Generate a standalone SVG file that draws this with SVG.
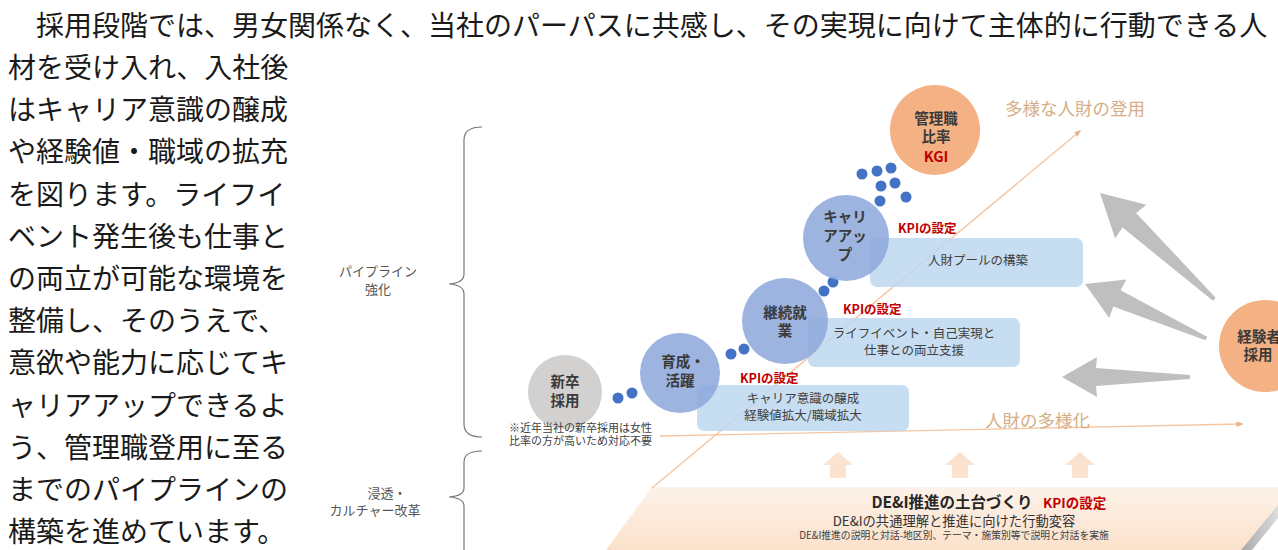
<svg xmlns="http://www.w3.org/2000/svg" xmlns:xlink="http://www.w3.org/1999/xlink" width="1278" height="550" viewBox="0 0 1278 550">
<style>
.para{font-family:"Noto Sans CJK JP","Noto Sans",sans-serif;font-size:28px;fill:#1a1a1a}
.lbl{font-family:"Noto Sans CJK JP",sans-serif;font-size:13px;fill:#555;text-anchor:middle}
.ctx{font-family:"Noto Sans CJK JP",sans-serif;font-size:14.5px;font-weight:bold;fill:#3a3a3a;text-anchor:middle}
.btx{font-family:"Noto Sans CJK JP",sans-serif;font-size:12.5px;fill:#404040;text-anchor:middle}
.kpi{font-family:"Noto Sans CJK JP",sans-serif;font-size:12.5px;font-weight:bold;fill:#c00000}
.note{font-family:"Noto Sans CJK JP",sans-serif;font-size:11px;fill:#404040}
.tan{font-family:"Noto Sans CJK JP",sans-serif;font-size:17.5px;fill:#d6ad86}
.blue{fill:#8eaadb;opacity:0.88}
.box{fill:#bdd7ee;opacity:0.85}
.dot{fill:#4472c4}
.brace{fill:none;stroke:#777;stroke-width:1.2}
.garrow{fill:#bfbfbf}
.uarrow{fill:#fbe3cf}
.oline{fill:none;stroke:#f4c6a2;stroke-width:1.4}
</style>
<defs>
<marker id="ah" viewBox="0 0 10 10" refX="8" refY="5" markerWidth="7" markerHeight="7" orient="auto" markerUnits="userSpaceOnUse">
<path d="M0,1 L10,5 L0,9 Z" fill="#e8b48c"/>
</marker>
<path id="up" d="M-15,13 L0,0 L15,13 L8,13 L8,26 L-8,26 L-8,13 Z"/>
<linearGradient id="plat" x1="0" y1="0" x2="0" y2="1">
<stop offset="0" stop-color="#fdf2e9"/>
<stop offset="1" stop-color="#fbe1cb"/>
</linearGradient>
<linearGradient id="side" x1="0" y1="0" x2="1" y2="0">
<stop offset="0" stop-color="#a9a9a9"/>
<stop offset="1" stop-color="#dcdcdc"/>
</linearGradient>
</defs>
<rect width="1278" height="550" fill="#fff"/>

<g id="paragraph">
<text class="para" x="36" y="36">採用段階では、男女関係なく、当社のパーパスに共感し、その実現に向けて主体的に行動できる人</text>
<text class="para" x="8" y="78">材を受け入れ、入社後</text>
<text class="para" x="8" y="120">はキャリア意識の醸成</text>
<text class="para" x="8" y="162">や経験値・職域の拡充</text>
<text class="para" x="8" y="205">を図ります。ライフイ</text>
<text class="para" x="8" y="247">ベント発生後も仕事と</text>
<text class="para" x="8" y="289">の両立が可能な環境を</text>
<text class="para" x="8" y="331">整備し、そのうえで、</text>
<text class="para" x="8" y="373">意欲や能力に応じてキ</text>
<text class="para" x="8" y="416">ャリアアップできるよ</text>
<text class="para" x="8" y="458">う、管理職登用に至る</text>
<text class="para" x="8" y="500">までのパイプラインの</text>
<text class="para" x="8" y="542">構築を進めています。</text>
</g>

<g id="braces">
<path class="brace" d="M482,127 Q464,127 464,140 L464,274 Q464,283 449,284 Q464,285 464,294 L464,424 Q464,437 482,437"/>
<text class="lbl" x="378" y="276">パイプライン</text>
<text class="lbl" x="378" y="294">強化</text>
<path class="brace" d="M482,451 Q464,451 464,462 L464,488 Q464,496 449,497 Q464,498 464,506 L464,550"/>
<text class="lbl" x="387" y="498">浸透・</text>
<text class="lbl" x="375" y="515">カルチャー改革</text>
</g>

<g id="platform">
<path d="M652,487 L1278,487 L1278,505 L1241,550 L606,550 Z" fill="url(#plat)"/>
<path d="M1278,505 L1278,518 L1252,550 L1241,550 Z" fill="url(#side)"/>
<text x="952" y="508" font-family="Noto Sans CJK JP, sans-serif" font-size="15.5" font-weight="bold" fill="#262626" text-anchor="middle">DE&amp;I推進の土台づくり</text>
<text class="kpi" x="1043" y="508" style="font-size:13.5px">KPIの設定</text>
<text x="954" y="526" font-family="Noto Sans CJK JP, sans-serif" font-size="13.3" fill="#333" text-anchor="middle">DE&amp;Iの共通理解と推進に向けた行動変容</text>
<text x="954" y="539" font-family="Noto Sans CJK JP, sans-serif" font-size="9.8" fill="#404040" text-anchor="middle">DE&amp;I推進の説明と対話-地区別、テーマ・施策別等で説明と対話を実施</text>
</g>

<g id="connectors">
<line class="oline" x1="652" y1="488" x2="1080" y2="131" marker-end="url(#ah)"/>
<line class="oline" x1="660" y1="436" x2="1242" y2="424" marker-end="url(#ah)"/>
<use xlink:href="#up" href="#up" class="uarrow" x="838" y="452"/>
<use xlink:href="#up" href="#up" class="uarrow" x="960" y="452"/>
<use xlink:href="#up" href="#up" class="uarrow" x="1080" y="452"/>
<path class="garrow" transform="translate(1100,193) rotate(42.9)" d="M0,0 L42,-23 L40,-10 L156,-2 L156,2 L40,10 L42,23 Z"/>
<path class="garrow" transform="translate(1085,284) rotate(24.2)" d="M0,0 L36,-21 L35,-9 L133,-2 L133,2 L35,9 L36,21 Z"/>
<path class="garrow" transform="translate(1062,377)" d="M0,0 L35,-20 L34,-9 L128,-2 L128,2 L34,9 L35,20 Z"/>
<circle class="dot" cx="618" cy="398" r="5.5"/>
<circle class="dot" cx="632" cy="393" r="5.5"/>
<circle class="dot" cx="731" cy="354" r="5.5"/>
<circle class="dot" cx="744" cy="349" r="5.5"/>
<circle class="dot" cx="824" cy="291" r="5.5"/>
<circle class="dot" cx="833" cy="282" r="5.5"/>
<circle class="dot" cx="880" cy="201" r="5.5"/>
<circle class="dot" cx="906" cy="197" r="5.5"/>
<circle class="dot" cx="881" cy="186" r="5.5"/>
<circle class="dot" cx="895" cy="183" r="5.5"/>
<circle class="dot" cx="862" cy="174" r="5.5"/>
<circle class="dot" cx="877" cy="171" r="5.5"/>
<circle class="dot" cx="891" cy="168" r="5.5"/>
</g>

<text class="tan" x="1005" y="115">多様な人財の登用</text>
<text class="tan" x="985" y="427">人財の多様化</text>

<g id="box-career-awareness">
<rect class="box" x="697" y="385" width="212" height="46" rx="7"/>
<text class="btx" x="803" y="403">キャリア意識の醸成</text>
<text class="btx" x="803" y="420">経験値拡大/職域拡大</text>
<text class="kpi" x="740" y="383">KPIの設定</text>
</g>
<g id="box-life-event">
<rect class="box" x="808" y="318" width="212" height="49" rx="7"/>
<text class="btx" x="914" y="338">ライフイベント・自己実現と</text>
<text class="btx" x="914" y="355">仕事との両立支援</text>
<text class="kpi" x="843" y="314">KPIの設定</text>
</g>
<g id="box-talent-pool">
<rect class="box" x="870" y="238" width="213" height="49" rx="7"/>
<text class="btx" x="978" y="265">人財プールの構築</text>
<text class="kpi" x="898" y="233">KPIの設定</text>
</g>

<g id="node-shinsotsu">
<circle cx="565" cy="392" r="37" fill="#d3d0d0"/>
<text class="ctx" x="565" y="387">新卒</text>
<text class="ctx" x="565" y="406">採用</text>
<text class="note" x="509" y="432">※近年当社の新卒採用は女性</text>
<text class="note" x="509" y="445">比率の方が高いため対応不要</text>
</g>
<g id="node-ikusei">
<circle class="blue" cx="680" cy="373" r="40"/>
<text class="ctx" x="683" y="367">育成・</text>
<text class="ctx" x="680" y="386">活躍</text>
</g>
<g id="node-keizoku">
<circle class="blue" cx="785" cy="321" r="43"/>
<text class="ctx" x="785" y="318">継続就</text>
<text class="ctx" x="785" y="336">業</text>
</g>
<g id="node-careerup">
<circle class="blue" cx="846" cy="238" r="43"/>
<text class="ctx" x="845" y="222">キャリ</text>
<text class="ctx" x="845" y="241">アアッ</text>
<text class="ctx" x="845" y="260">プ</text>
</g>
<g id="node-kanri">
<circle cx="935" cy="130" r="45" fill="#f4b183"/>
<text class="ctx" x="936" y="124">管理職</text>
<text class="ctx" x="936" y="142">比率</text>
<text class="ctx" x="936" y="162" style="fill:#c00000">KGI</text>
</g>
<g id="node-keikensha">
<circle cx="1265" cy="346" r="46" fill="#f4b183"/>
<text class="ctx" x="1259" y="342">経験者</text>
<text class="ctx" x="1258" y="360">採用</text>
</g>
</svg>
